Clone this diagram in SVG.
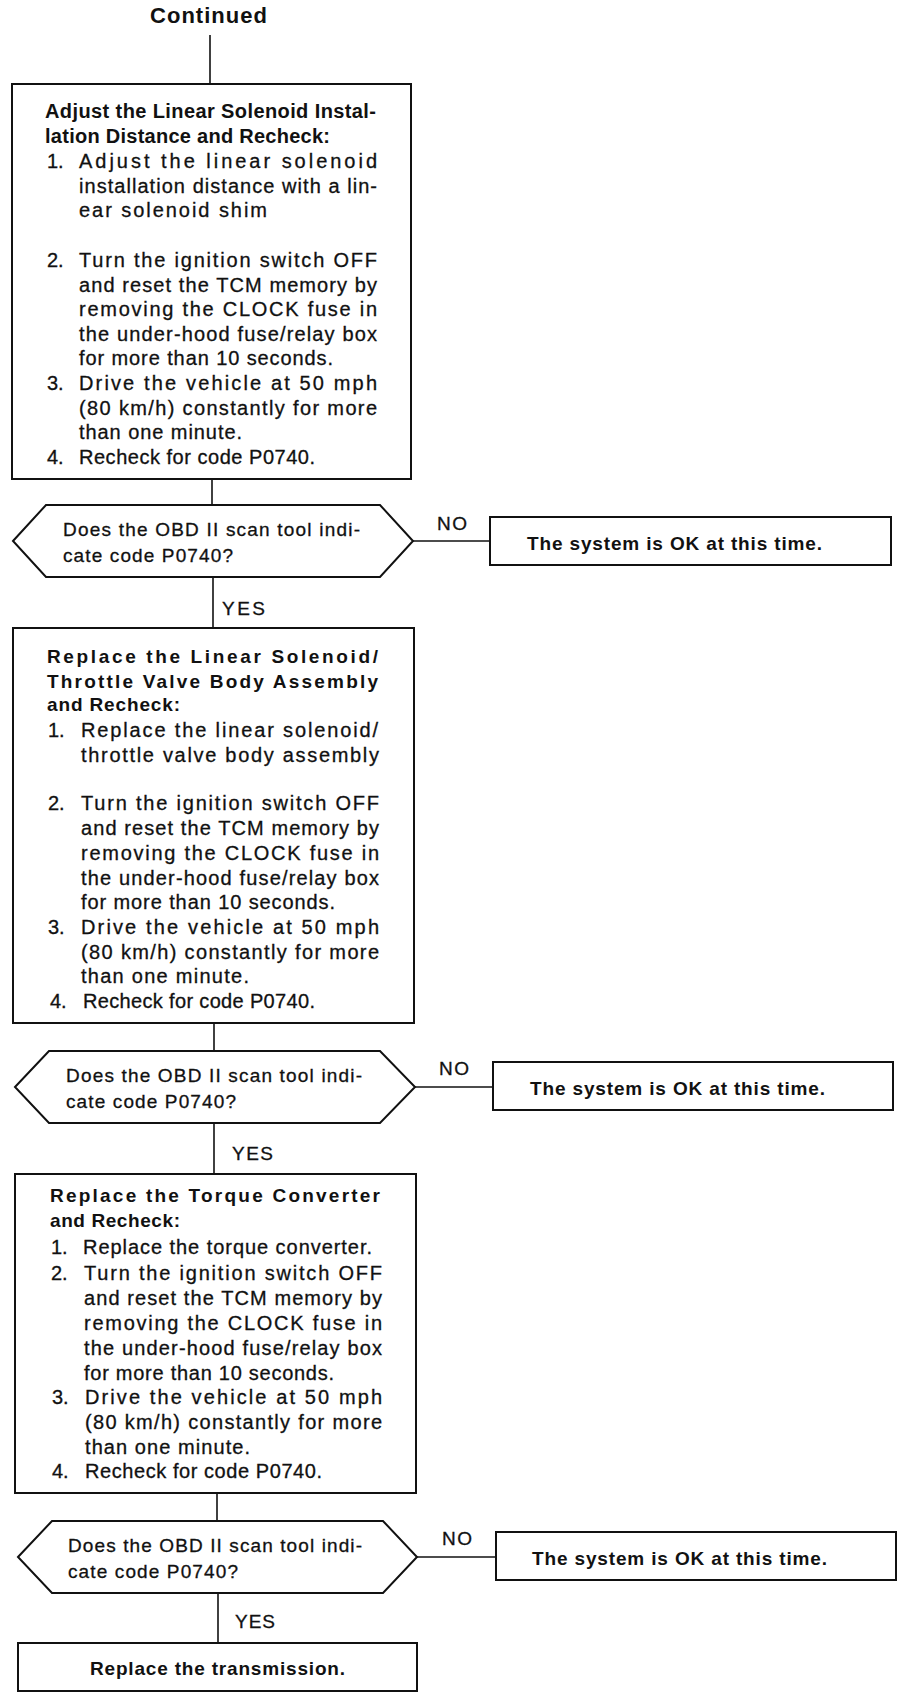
<svg xmlns="http://www.w3.org/2000/svg" width="912" height="1700" viewBox="0 0 912 1700">
<style>
.box{fill:#fff;stroke:#111;stroke-width:2}
.conn{stroke:#111;stroke-width:1.6;fill:none}
.t{font-family:"Liberation Sans",Arial,sans-serif;font-size:20px;fill:#111;stroke:#111;stroke-width:0.3}
.b{font-family:"Liberation Sans",Arial,sans-serif;font-size:19px;font-weight:bold;fill:#111}
.b20{font-family:"Liberation Sans",Arial,sans-serif;font-size:20px;font-weight:bold;fill:#111}
.q{font-family:"Liberation Sans",Arial,sans-serif;font-size:19px;fill:#111;stroke:#111;stroke-width:0.3}
.lbl{font-family:"Liberation Sans",Arial,sans-serif;font-size:19px;fill:#111;stroke:#111;stroke-width:0.3}
</style>
<rect width="912" height="1700" fill="#fff"/>

<g id="connectors">
<line class="conn" x1="210" y1="35" x2="210" y2="84"/>
<line class="conn" x1="212" y1="479" x2="212" y2="505"/>
<line class="conn" x1="213" y1="577" x2="213" y2="628"/>
<line class="conn" x1="413" y1="541" x2="490" y2="541"/>
<line class="conn" x1="214" y1="1023" x2="214" y2="1051"/>
<line class="conn" x1="214" y1="1123" x2="214" y2="1174"/>
<line class="conn" x1="415" y1="1087" x2="493" y2="1087"/>
<line class="conn" x1="217" y1="1493" x2="217" y2="1521"/>
<line class="conn" x1="218" y1="1593" x2="218" y2="1643"/>
<line class="conn" x1="417" y1="1557" x2="496" y2="1557"/>
<text class="lbl" x="437" y="530" textLength="30">NO</text>
<text class="lbl" x="222" y="615" textLength="43">YES</text>
<text class="lbl" x="439" y="1075" textLength="30">NO</text>
<text class="lbl" x="232" y="1160" textLength="41">YES</text>
<text class="lbl" x="442" y="1545" textLength="30">NO</text>
<text class="lbl" x="235" y="1628" textLength="40">YES</text>
</g>

<g id="start">
<text class="b" style="font-size:22px" x="150" y="23" textLength="117">Continued</text>
</g>

<g id="step1">
<rect class="box" x="12" y="84" width="399" height="395"/>
<text class="b20" x="45" y="118" textLength="331">Adjust the Linear Solenoid Instal-</text>
<text class="b20" x="45" y="143" textLength="285">lation Distance and Recheck:</text>
<text class="t" x="47" y="168">1.</text>
<text class="t" x="79" y="168" textLength="298">Adjust the linear solenoid</text>
<text class="t" x="79" y="193" textLength="298">installation distance with a lin-</text>
<text class="t" x="79" y="217" textLength="188">ear solenoid shim</text>
<text class="t" x="47" y="267">2.</text>
<text class="t" x="79" y="267" textLength="298">Turn the ignition switch OFF</text>
<text class="t" x="79" y="292" textLength="298">and reset the TCM memory by</text>
<text class="t" x="79" y="316" textLength="298">removing the CLOCK fuse in</text>
<text class="t" x="79" y="341" textLength="298">the under-hood fuse/relay box</text>
<text class="t" x="79" y="365" textLength="254">for more than 10 seconds.</text>
<text class="t" x="47" y="390">3.</text>
<text class="t" x="79" y="390" textLength="298">Drive the vehicle at 50 mph</text>
<text class="t" x="79" y="415" textLength="298">(80 km/h) constantly for more</text>
<text class="t" x="79" y="439" textLength="163">than one minute.</text>
<text class="t" x="47" y="464">4.</text>
<text class="t" x="79" y="464" textLength="236">Recheck for code P0740.</text>
</g>

<g id="decision1">
<polygon class="box" points="13,541 46,505 380,505 413,541 380,577 46,577"/>
<text class="q" x="63" y="536" textLength="297">Does the OBD II scan tool indi-</text>
<text class="q" x="63" y="562" textLength="170">cate code P0740?</text>
</g>

<g id="ok1">
<rect class="box" x="490" y="517" width="401" height="48"/>
<text class="b" x="527" y="550" textLength="295">The system is OK at this time.</text>
</g>

<g id="step2">
<rect class="box" x="13" y="628" width="401" height="395"/>
<text class="b" x="47" y="663" textLength="331">Replace the Linear Solenoid/</text>
<text class="b" x="47" y="688" textLength="331">Throttle Valve Body Assembly</text>
<text class="b" x="47" y="711" textLength="133">and Recheck:</text>
<text class="t" x="48" y="737">1.</text>
<text class="t" x="81" y="737" textLength="297">Replace the linear solenoid/</text>
<text class="t" x="81" y="762" textLength="298">throttle valve body assembly</text>
<text class="t" x="48" y="810">2.</text>
<text class="t" x="81" y="810" textLength="298">Turn the ignition switch OFF</text>
<text class="t" x="81" y="835" textLength="298">and reset the TCM memory by</text>
<text class="t" x="81" y="860" textLength="298">removing the CLOCK fuse in</text>
<text class="t" x="81" y="885" textLength="298">the under-hood fuse/relay box</text>
<text class="t" x="81" y="909" textLength="254">for more than 10 seconds.</text>
<text class="t" x="48" y="934">3.</text>
<text class="t" x="81" y="934" textLength="298">Drive the vehicle at 50 mph</text>
<text class="t" x="81" y="959" textLength="298">(80 km/h) constantly for more</text>
<text class="t" x="81" y="983" textLength="168">than one minute.</text>
<text class="t" x="50" y="1008">4.</text>
<text class="t" x="83" y="1008" textLength="232">Recheck for code P0740.</text>
</g>

<g id="decision2">
<polygon class="box" points="15,1087 49,1051 380,1051 415,1087 380,1123 49,1123"/>
<text class="q" x="66" y="1082" textLength="296">Does the OBD II scan tool indi-</text>
<text class="q" x="66" y="1108" textLength="170">cate code P0740?</text>
</g>

<g id="ok2">
<rect class="box" x="493" y="1062" width="400" height="48"/>
<text class="b" x="530" y="1095" textLength="295">The system is OK at this time.</text>
</g>

<g id="step3">
<rect class="box" x="15" y="1174" width="401" height="319"/>
<text class="b" x="50" y="1202" textLength="330">Replace the Torque Converter</text>
<text class="b" x="50" y="1227" textLength="130">and Recheck:</text>
<text class="t" x="51" y="1254">1.</text>
<text class="t" x="83" y="1254" textLength="289">Replace the torque converter.</text>
<text class="t" x="51" y="1280">2.</text>
<text class="t" x="84" y="1280" textLength="298">Turn the ignition switch OFF</text>
<text class="t" x="84" y="1305" textLength="298">and reset the TCM memory by</text>
<text class="t" x="84" y="1330" textLength="298">removing the CLOCK fuse in</text>
<text class="t" x="84" y="1355" textLength="298">the under-hood fuse/relay box</text>
<text class="t" x="84" y="1380" textLength="250">for more than 10 seconds.</text>
<text class="t" x="52" y="1404">3.</text>
<text class="t" x="85" y="1404" textLength="297">Drive the vehicle at 50 mph</text>
<text class="t" x="85" y="1429" textLength="297">(80 km/h) constantly for more</text>
<text class="t" x="85" y="1454" textLength="165">than one minute.</text>
<text class="t" x="52" y="1478">4.</text>
<text class="t" x="85" y="1478" textLength="237">Recheck for code P0740.</text>
</g>

<g id="decision3">
<polygon class="box" points="18,1557 52,1521 383,1521 417,1557 383,1593 52,1593"/>
<text class="q" x="68" y="1552" textLength="294">Does the OBD II scan tool indi-</text>
<text class="q" x="68" y="1578" textLength="170">cate code P0740?</text>
</g>

<g id="ok3">
<rect class="box" x="496" y="1532" width="400" height="48"/>
<text class="b" x="532" y="1565" textLength="295">The system is OK at this time.</text>
</g>

<g id="final">
<rect class="box" x="18" y="1643" width="399" height="48"/>
<text class="b" x="90" y="1675" textLength="255">Replace the transmission.</text>
</g>
</svg>
